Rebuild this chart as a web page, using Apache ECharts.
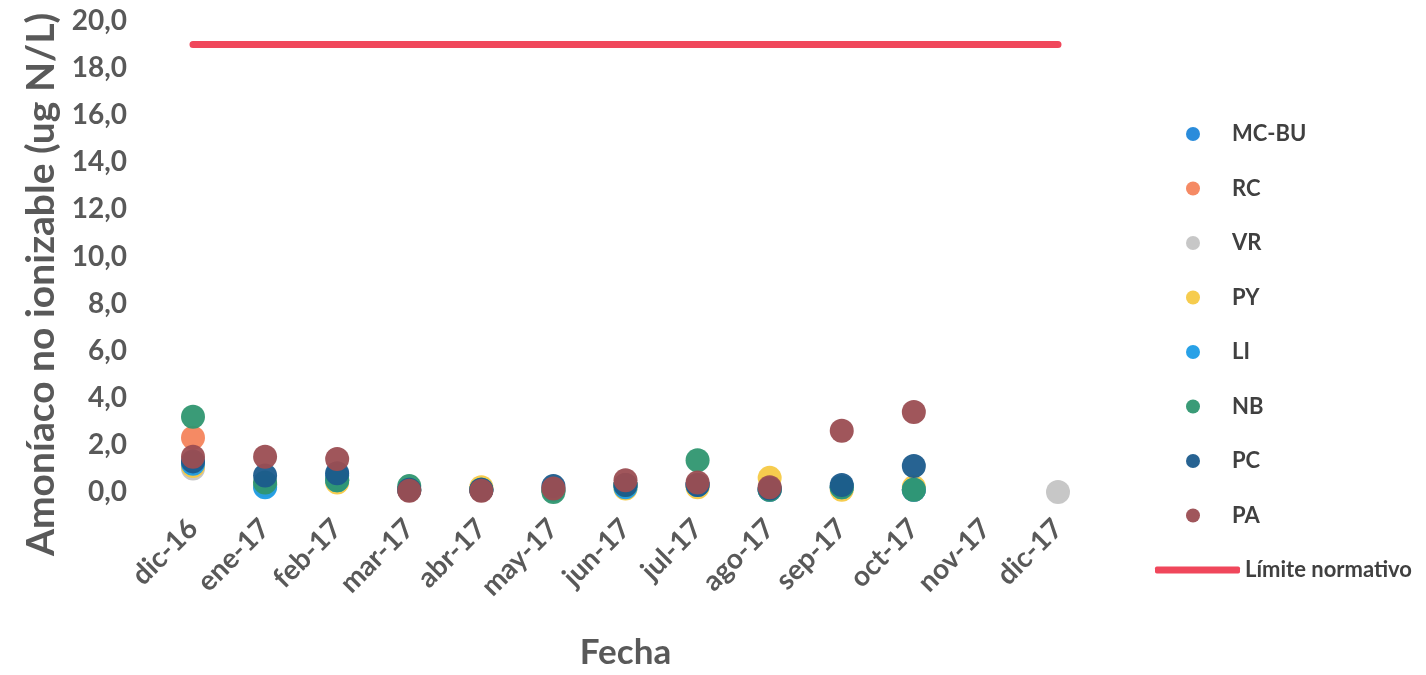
<!DOCTYPE html>
<html>
<head>
<meta charset="utf-8">
<script src="https://cdn.jsdelivr.net/npm/echarts@6/dist/echarts.min.js"></script>
<style>
html,body{margin:0;padding:0;background:#fff;}
#chart{width:1426px;height:675px;}
</style>
</head>
<body>
<div id="chart"></div>
<script>
const categories = ['dic-16','ene-17','feb-17','mar-17','abr-17','may-17','jun-17','jul-17','ago-17','sep-17','oct-17','nov-17','dic-17'];
const yTicks = {min: 0, max: 20, interval: 2};

const MC_BU = [1.2, 0.3, 0.7, 0.1, 0.1, 0.1, 0.3, 0.3, 0.1, 0.2, 0.1, null, null];
const RC    = [2.3, 0.3, 0.5, 0.1, 0.1, 0.1, 0.3, 0.3, 0.1, 0.2, 0.1, null, null];
const VR    = [1.0, 0.3, 0.5, 0.1, 0.1, 0.1, 0.3, 0.3, 0.1, 0.2, 0.1, null, 0.0];
const PY    = [1.1, 0.3, 0.4, 0.1, 0.2, 0.1, 0.15, 0.2, 0.6, 0.1, 0.2, null, null];
const LI    = [1.2, 0.2, 0.5, 0.1, 0.1, 0.1, 0.2, 0.3, 0.1, 0.2, 0.1, null, null];
const NB    = [3.2, 0.4, 0.5, 0.25, 0.1, 0.0, 0.3, 1.35, 0.1, 0.2, 0.1, null, null];
const PC    = [1.3, 0.7, 0.8, 0.1, 0.1, 0.25, 0.3, 0.3, 0.15, 0.3, 1.1, null, null];
const PA    = [1.5, 1.5, 1.4, 0.05, 0.05, 0.15, 0.5, 0.4, 0.2, 2.6, 3.4, null, null];
const LIMITE = [19, 19, 19, 19, 19, 19, 19, 19, 19, 19, 19, 19, 19];

const seriesDefs = [
  {name: 'MC-BU', data: MC_BU, color: '#1f86d9'},
  {name: 'RC', data: RC, color: '#f4845c'},
  {name: 'VR', data: VR, color: '#c4c4c4'},
  {name: 'PY', data: PY, color: '#f6c944'},
  {name: 'LI', data: LI, color: '#1c9ce6'},
  {name: 'NB', data: NB, color: '#2f9670'},
  {name: 'PC', data: PC, color: '#1b5b8c'},
  {name: 'PA', data: PA, color: '#9b4d52'}
];

const FONT = 'Lato';
const chart = echarts.init(document.getElementById('chart'));

const series = seriesDefs.map(s => ({
  name: s.name,
  type: 'scatter',
  data: s.data,
  symbol: 'circle',
  symbolSize: 24,
  itemStyle: {color: s.color, opacity: 0.95},
  z: 3
}));
series.push({
  name: 'Límite normativo',
  type: 'line',
  data: LIMITE,
  showSymbol: false,
  symbol: 'none',
  lineStyle: {color: '#f0475b', width: 7, cap: 'round'},
  itemStyle: {color: '#f0475b'},
  z: 2
});

chart.setOption({
  backgroundColor: '#fff',
  animation: false,
  grid: {left: 193, right: 368, top: 21, bottom: 180, containLabel: false},
  xAxis: {
    type: 'category',
    data: categories,
    boundaryGap: false,
    axisLine: {show: false},
    axisTick: {show: false},
    splitLine: {show: false},
    axisLabel: {
      rotate: 45, interval: 0, margin: 32,
      color: '#595959', fontFamily: FONT, fontWeight: 'bold', fontSize: 28
    },
    name: 'Fecha',
    nameLocation: 'middle',
    nameGap: 143,
    nameTextStyle: {color: '#595959', fontFamily: FONT, fontWeight: 'bold', fontSize: 35}
  },
  yAxis: {
    type: 'value',
    min: yTicks.min, max: yTicks.max, interval: yTicks.interval,
    axisLine: {show: false},
    axisTick: {show: false},
    splitLine: {show: false},
    axisLabel: {
      margin: 66,
      color: '#595959', fontFamily: FONT, fontWeight: 'bold', fontSize: 28,
      formatter: v => v.toFixed(1).replace('.', ',')
    },
    name: 'Amoníaco no ionizable (ug N/L)',
    nameLocation: 'middle',
    nameGap: 130,
    nameTextStyle: {color: '#595959', fontFamily: FONT, fontWeight: 'bold', fontSize: 39, padding: [0, 56, 0, 0]}
  },
  legend: [
    {
      orient: 'vertical',
      left: 1181, top: 118,
      itemWidth: 14, itemHeight: 14,
      itemGap: 32.5,
      icon: 'circle',
      data: seriesDefs.map(s => s.name),
      textStyle: {color: '#404040', fontFamily: FONT, fontWeight: 'bold', fontSize: 22, lineHeight: 22, padding: [0, 0, 0, 27]}
    },
    {
      orient: 'vertical',
      left: 1150, top: 554,
      itemWidth: 85, itemHeight: 7,
      icon: 'roundRect',
      data: ['Límite normativo'],
      textStyle: {color: '#404040', fontFamily: FONT, fontWeight: 'bold', fontSize: 22, lineHeight: 22}
    }
  ],
  series: series
});
</script>
</body>
</html>
